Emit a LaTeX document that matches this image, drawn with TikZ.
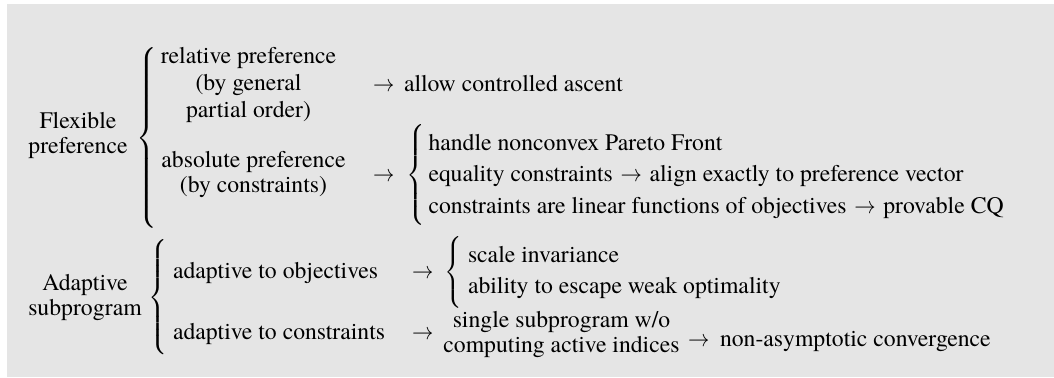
\documentclass[tikz,border=0pt]{standalone}
\usepackage{fontspec}
\setmainfont{TeX Gyre Termes}
\usepackage{graphicx}
\definecolor{bggray}{RGB}{229,229,229}
\newcommand\cbrace[1]{\resizebox*{!}{#1}{$\delimitershortfall=0pt\delimiterfactor=1000\left\{\vcenter{\hbox{\rule{0pt}{#1}}}\right.$}}
\newcommand\rarr{\scalebox{0.9}[1]{$\rightarrow$}}
\newcommand\iarr{\unskip\hspace{3.25pt}\rarr\hspace{3.25pt}\ignorespaces}
\tikzset{
  txt/.style={inner sep=0pt, outer sep=0pt, anchor=base west, font=\fontsize{10}{12}\selectfont},
  ctxt/.style={txt, anchor=base},
  arr/.style={txt},
  brc/.style={inner sep=0pt, outer sep=0pt, anchor=west}
}
\begin{document}
\begin{tikzpicture}[x=0.42194pt, y=-0.42194pt]
\useasboundingbox (0,0) rectangle (1054,377);
\fill[bggray] (7,4) rectangle (1054,377);

% Flexible preference
\node[ctxt] (flex1) at (78,128) {Flexible};
\node[ctxt] (flex2) at (78,153) {preference};
\node[brc] (b1) at (136,138) {\cbrace{76.3pt}};

\node[ctxt] (rel1) at (248.5,63.5) {relative preference};
\node[ctxt] (rel2) at (248.5,90.5) {(by general};
\node[ctxt] (rel3) at (248.5,117.5) {partial order)};
\node[arr] (a1) at (373,91) {\rarr};
\node[txt] (asc) at (404,91) {allow controlled ascent};

\node[ctxt] (abs1) at (253.5,167.5) {absolute preference};
\node[ctxt] (abs2) at (253.5,192.5) {(by constraints)};
\node[arr] (a2) at (373,181.5) {\rarr};
\node[brc] (b2) at (406,175) {\cbrace{42.4pt}};
\node[txt] (c1) at (428.5,150) {handle nonconvex Pareto Front};
\node[txt] (c2) at (428.5,181.5) {equality constraints \iarr align exactly to preference vector};
\node[txt] (c3) at (428.5,213) {constraints are linear functions of objectives \iarr provable CQ};

% Adaptive subprogram
\node[ctxt] (ad1) at (85,290) {Adaptive};
\node[ctxt] (ad2) at (85,315) {subprogram};
\node[brc] (b3) at (149,297.5) {\cbrace{48.7pt}};

\node[txt] (obj) at (173,278) {adaptive to objectives};
\node[arr] (a3) at (412,278) {\rarr};
\node[brc] (b4) at (444,272.5) {\cbrace{30.1pt}};
\node[txt] (s1) at (468,262.5) {scale invariance};
\node[txt] (s2) at (468,293.5) {ability to escape weak optimality};

\node[txt] (con) at (173,339) {adaptive to constraints};
\node[arr] (a4) at (412,339) {\rarr};
\node[ctxt] (sg1) at (561.5,327) {single subprogram w/o};
\node[ctxt] (sg2) at (561.5,352) {computing active indices};
\node[arr] (a5) at (688,346) {\rarr};
\node[txt] (nac) at (720,346) {non-asymptotic convergence};
\end{tikzpicture}
\end{document}
